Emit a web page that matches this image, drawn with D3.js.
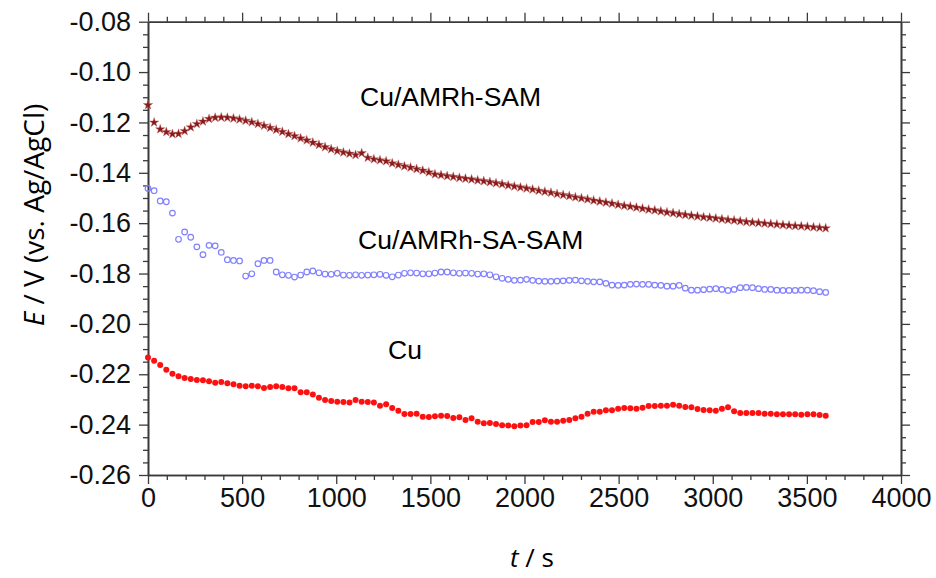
<!DOCTYPE html>
<html>
<head>
<meta charset="utf-8">
<script src="https://cdn.jsdelivr.net/npm/d3@7"></script>
<style>
  html, body { margin: 0; padding: 0; background: #ffffff; }
  svg { display: block; }
</style>
</head>
<body>
<div id="chart"></div>
<script>
// ---------------- DATA ----------------
const xTicks = [0, 500, 1000, 1500, 2000, 2500, 3000, 3500, 4000];
const yTicks = [-0.26, -0.24, -0.22, -0.20, -0.18, -0.16, -0.14, -0.12, -0.10, -0.08];
const xDomain = [0, 4000];
const yDomain = [-0.26, -0.08];
const tEnd = 3600; // last sample time (s); samples are evenly spaced from 0

const seriesNames = ["Cu/AMRh-SAM", "Cu/AMRh-SA-SAM", "Cu"];

// Cu/AMRh-SAM (dark red stars)
const samValues = [
  -0.1131, -0.1200, -0.1227, -0.1238, -0.1246, -0.1245, -0.1234, -0.1219, -0.1206, -0.1196,
  -0.1186, -0.1181, -0.1180, -0.1181, -0.1184, -0.1188, -0.1193, -0.1199, -0.1206, -0.1213,
  -0.1221, -0.1229, -0.1237, -0.1246, -0.1254, -0.1263, -0.1271, -0.1280, -0.1289, -0.1298,
  -0.1306, -0.1313, -0.1319, -0.1324, -0.1329, -0.1322, -0.1340, -0.1346, -0.1350, -0.1354,
  -0.1362, -0.1368, -0.1374, -0.1379, -0.1385, -0.1391, -0.1398,
  -0.1406, -0.1409, -0.1413, -0.1416, -0.1420, -0.1423, -0.1426, -0.1430, -0.1433, -0.1437,
  -0.1441, -0.1445, -0.1450, -0.1454, -0.1458, -0.1462, -0.1466, -0.1471, -0.1475, -0.1479,
  -0.1484, -0.1488, -0.1492, -0.1497, -0.1501, -0.1505, -0.1510, -0.1514, -0.1518, -0.1522,
  -0.1527, -0.1531, -0.1534, -0.1538, -0.1542, -0.1546, -0.1549, -0.1553, -0.1557, -0.1560,
  -0.1564, -0.1567, -0.1570, -0.1573, -0.1576, -0.1578, -0.1581, -0.1584, -0.1587, -0.1589,
  -0.1592, -0.1595, -0.1597, -0.1599, -0.1601, -0.1603, -0.1605, -0.1607, -0.1609, -0.1611,
  -0.1612, -0.1614, -0.1616, -0.1618, -0.1620
];

// Cu/AMRh-SA-SAM (blue open circles)
const saSamValues = [
  -0.1462, -0.1471, -0.1512, -0.1515, -0.1560, -0.1664, -0.1635, -0.1656, -0.1694, -0.1725,
  -0.1688, -0.1690, -0.1716, -0.1745, -0.1748, -0.1750, -0.1810, -0.1801, -0.1761, -0.1748,
  -0.1748, -0.1794, -0.1805, -0.1807, -0.1814, -0.1806, -0.1794, -0.1790, -0.1797, -0.1802,
  -0.1803, -0.1799, -0.1806, -0.1807, -0.1805, -0.1807, -0.1806, -0.1805, -0.1803, -0.1807,
  -0.1813, -0.1806, -0.1799, -0.1797, -0.1798, -0.1801, -0.1801, -0.1798,
  -0.1794, -0.1794, -0.1797, -0.1799, -0.1798, -0.1799, -0.1802, -0.1801, -0.1805, -0.1813,
  -0.1819, -0.1823, -0.1827, -0.1826, -0.1823, -0.1827, -0.1830, -0.1831, -0.1831, -0.1830,
  -0.1829, -0.1827, -0.1826, -0.1829, -0.1831, -0.1833, -0.1833, -0.1839, -0.1846, -0.1847,
  -0.1846, -0.1843, -0.1842, -0.1843, -0.1843, -0.1846, -0.1847, -0.1850, -0.1850, -0.1847,
  -0.1858, -0.1866, -0.1866, -0.1864, -0.1862, -0.1860, -0.1863, -0.1867, -0.1863, -0.1856,
  -0.1855, -0.1856, -0.1860, -0.1863, -0.1863, -0.1866, -0.1867, -0.1867, -0.1867, -0.1866,
  -0.1866, -0.1868, -0.1872, -0.1875
];

// Cu (red filled dots)
const cuValues = [
  -0.2133, -0.2146, -0.2163, -0.2182, -0.2198, -0.2208, -0.2215, -0.2219, -0.2223, -0.2224,
  -0.2228, -0.2234, -0.2231, -0.2236, -0.2240, -0.2246, -0.2248, -0.2246, -0.2248, -0.2255,
  -0.2251, -0.2248, -0.2251, -0.2256, -0.2256, -0.2271, -0.2271, -0.2280, -0.2293, -0.2302,
  -0.2306, -0.2309, -0.2310, -0.2312, -0.2302, -0.2309, -0.2310, -0.2312, -0.2325, -0.2319,
  -0.2334, -0.2345, -0.2358, -0.2358, -0.2357, -0.2369, -0.2370, -0.2367,
  -0.2365, -0.2366, -0.2374, -0.2371, -0.2382, -0.2375, -0.2389, -0.2395, -0.2394, -0.2397,
  -0.2402, -0.2403, -0.2406, -0.2403, -0.2402, -0.2390, -0.2390, -0.2383, -0.2389, -0.2389,
  -0.2385, -0.2382, -0.2375, -0.2369, -0.2357, -0.2349, -0.2349, -0.2343, -0.2343, -0.2337,
  -0.2334, -0.2335, -0.2337, -0.2333, -0.2326, -0.2326, -0.2325, -0.2325, -0.2321, -0.2325,
  -0.2330, -0.2331, -0.2338, -0.2342, -0.2343, -0.2345, -0.2337, -0.2331, -0.2347, -0.2354,
  -0.2354, -0.2354, -0.2354, -0.2357, -0.2357, -0.2359, -0.2359, -0.2359, -0.2359, -0.2361,
  -0.2359, -0.2359, -0.2362, -0.2365
];

// ---------------- CHART ----------------
const W = 936, H = 578;
const plot = { left: 148, right: 901, top: 21.7, bottom: 475 };

const svg = d3.select("#chart").append("svg")
  .attr("width", W).attr("height", H)
  .style("background", "#ffffff");

const x = d3.scaleLinear().domain(xDomain).range([plot.left, plot.right]);
const y = d3.scaleLinear().domain(yDomain).range([plot.bottom, plot.top]);

const axisColor = "#3a3a3a";
const tickFont = "Liberation Sans, Arial, sans-serif";

const xMinor = d3.range(0, 4001, 100).filter(v => v % 500 !== 0);
const yMinor = d3.range(-260, -79, 5).filter(v => v % 20 !== 0).map(v => v / 1000);

function styleAxis(g) {
  g.selectAll("path.domain").attr("stroke", axisColor).attr("stroke-width", 1.6);
  g.selectAll(".tick line").attr("stroke", axisColor).attr("stroke-width", 1.3);
  g.selectAll(".tick text")
    .attr("fill", "#111")
    .style("font-family", tickFont)
    .style("font-size", "27px");
}

// Bottom axis
svg.append("g").attr("transform", `translate(0,${plot.bottom})`)
  .call(d3.axisBottom(x).tickValues(xMinor).tickSize(5).tickSizeOuter(0).tickFormat(""))
  .call(styleAxis);
svg.append("g").attr("transform", `translate(0,${plot.bottom})`)
  .call(d3.axisBottom(x).tickValues(xTicks).tickSize(9).tickSizeOuter(0).tickPadding(4).tickFormat(d3.format("d")))
  .call(styleAxis);

// Top axis
svg.append("g").attr("transform", `translate(0,${plot.top})`)
  .call(d3.axisTop(x).tickValues(xMinor).tickSize(5).tickSizeOuter(0).tickFormat(""))
  .call(styleAxis);
svg.append("g").attr("transform", `translate(0,${plot.top})`)
  .call(d3.axisTop(x).tickValues(xTicks).tickSize(9).tickSizeOuter(0).tickFormat(""))
  .call(styleAxis);

// Left axis
svg.append("g").attr("transform", `translate(${plot.left},0)`)
  .call(d3.axisLeft(y).tickValues(yMinor).tickSize(5).tickSizeOuter(0).tickFormat(""))
  .call(styleAxis);
svg.append("g").attr("transform", `translate(${plot.left},0)`)
  .call(d3.axisLeft(y).tickValues(yTicks).tickSize(9).tickSizeOuter(0).tickPadding(8).tickFormat(d3.format(".2f")))
  .call(styleAxis);

// Right axis
svg.append("g").attr("transform", `translate(${plot.right},0)`)
  .call(d3.axisRight(y).tickValues(yMinor).tickSize(5).tickSizeOuter(0).tickFormat(""))
  .call(styleAxis);
svg.append("g").attr("transform", `translate(${plot.right},0)`)
  .call(d3.axisRight(y).tickValues(yTicks).tickSize(9).tickSizeOuter(0).tickFormat(""))
  .call(styleAxis);

// reference uses a plain hyphen for negative numbers
svg.selectAll(".tick text").each(function () {
  const t = d3.select(this);
  t.text(t.text().replace("\u2212", "-"));
});

function toPoints(values) {
  const step = tEnd / (values.length - 1);
  return values.map((v, i) => ({ t: i * step, v }));
}

const marks = svg.append("g");

// Cu/AMRh-SAM: stars
marks.append("g").selectAll("path")
  .data(toPoints(samValues))
  .join("path")
  .attr("transform", d => `translate(${x(d.t)},${y(d.v)})`)
  .attr("d", d3.symbol().type(d3.symbolStar).size(28))
  .attr("fill", "#8a1a1a")
  .attr("stroke", "#c07070")
  .attr("stroke-width", 0.4);

// Cu/AMRh-SA-SAM: open circles
marks.append("g").selectAll("circle")
  .data(toPoints(saSamValues))
  .join("circle")
  .attr("cx", d => x(d.t))
  .attr("cy", d => y(d.v))
  .attr("r", 2.8)
  .attr("fill", "none")
  .attr("stroke", "#8080ff")
  .attr("stroke-width", 1.2);

// Cu: filled red dots
marks.append("g").selectAll("circle")
  .data(toPoints(cuValues))
  .join("circle")
  .attr("cx", d => x(d.t))
  .attr("cy", d => y(d.v))
  .attr("r", 3)
  .attr("fill", "#ff1010");

// Annotations
const annot = [
  { text: seriesNames[0], x: 360, y: 106 },
  { text: seriesNames[1], x: 358, y: 249 },
  { text: seriesNames[2], x: 388, y: 359 }
];
svg.append("g").selectAll("text")
  .data(annot)
  .join("text")
  .attr("x", d => d.x)
  .attr("y", d => d.y)
  .style("font-family", tickFont)
  .style("font-size", "26.5px")
  .attr("fill", "#000")
  .text(d => d.text);

// Axis titles
const xTitle = svg.append("text")
  .attr("x", 532).attr("y", 567)
  .attr("text-anchor", "middle")
  .style("font-family", "Open Sans, Noto Sans, sans-serif")
  .style("font-size", "26px")
  .attr("fill", "#000");
xTitle.append("tspan").style("font-style", "italic").text("t");
xTitle.append("tspan").text(" / s");

const yTitle = svg.append("text")
  .attr("transform", "translate(44,215) rotate(-90)")
  .attr("text-anchor", "middle")
  .style("font-family", "Open Sans, Noto Sans, sans-serif")
  .style("font-size", "28px")
  .attr("fill", "#000");
yTitle.append("tspan").style("font-style", "italic").text("E");
yTitle.append("tspan").text(" / V (vs. Ag/AgCl)");
</script>
</body>
</html>
